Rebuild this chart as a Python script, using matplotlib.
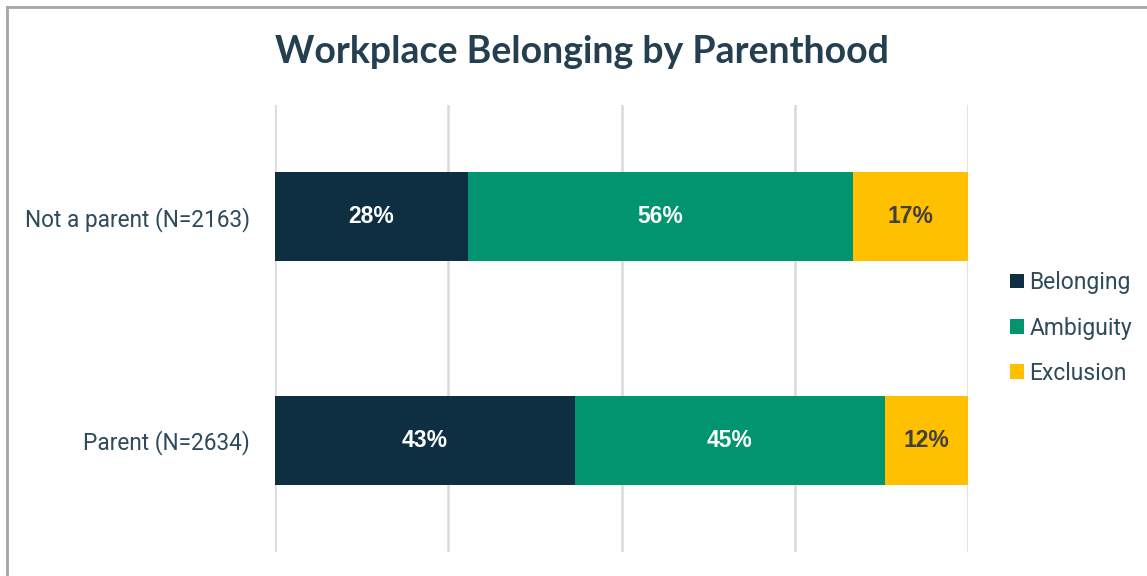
import matplotlib.pyplot as plt
from matplotlib.lines import Line2D
from matplotlib.patches import Patch

# values (percent of each group)
groups = ["Parent (N=2634)", "Not a parent (N=2163)"]
series = ["Belonging", "Ambiguity", "Exclusion"]
belonging = [43.3, 27.8]
ambiguity = [44.7, 55.6]
exclusion = [12.0, 16.6]
colors = ["#0E2F42", "#00956E", "#FFC000"]
label_colors = ["white", "white", "#404040"]

text_col = "#2F4A5A"

fig = plt.figure(figsize=(11.47, 5.76), dpi=100)
ax = fig.add_axes([275 / 1147, 1 - 552 / 576, 693 / 1147, 447 / 576])

left = [0, 0]
for name, vals, c, lc in zip(series, [belonging, ambiguity, exclusion], colors, label_colors):
    ax.barh(range(len(groups)), vals, left=left, height=0.4, color=c, zorder=3)
    for i, v in enumerate(vals):
        ax.text(left[i] + v / 2, i, "{:.0f}%".format(v), ha="center", va="center",
                color=lc, fontsize=16.5, fontweight="bold", family="Liberation Sans", zorder=4)
    left = [l + v for l, v in zip(left, vals)]

ax.set_xlim(0, 100)
ax.set_ylim(-0.5, 1.5)
ax.set_xticks([0, 25, 50, 75, 100])
ax.set_xticklabels([])
ax.tick_params(axis="x", length=0)
ax.tick_params(axis="y", length=0, pad=18)
ax.set_yticks(range(len(groups)))
ax.set_yticklabels(groups, fontsize=16.3, color=text_col, family="Roboto")
ax.grid(axis="x", color="#D9D9D9", linewidth=1.8, zorder=0)
for s in ax.spines.values():
    s.set_visible(False)

fig.suptitle("Workplace Belonging by Parenthood", x=0.507, y=1 - 52 / 576, va="center",
             fontsize=27, fontweight="bold", color="#243F50", family="Lato")

handles = [Patch(facecolor=c, edgecolor="none") for c in colors]
leg = fig.legend(handles, series, loc="center left", bbox_to_anchor=(1010 / 1147, 1 - 328 / 576),
                 frameon=False, borderpad=0, borderaxespad=0, handlelength=0.6, handleheight=0.6,
                 handletextpad=0.25, labelspacing=0.97, prop={"family": "Roboto", "size": 16.5})
for t in leg.get_texts():
    t.set_color(text_col)

# chart border (left and top edges visible)
fig.add_artist(Line2D([6.5 / 1147, 6.5 / 1147], [0, 1 - 7 / 576], color="#A6A6A6", linewidth=2,
                      transform=fig.transFigure))
fig.add_artist(Line2D([6.5 / 1147, 1], [1 - 7 / 576, 1 - 7 / 576], color="#A6A6A6", linewidth=2,
                      transform=fig.transFigure))

fig.savefig("out.png", dpi=100)
